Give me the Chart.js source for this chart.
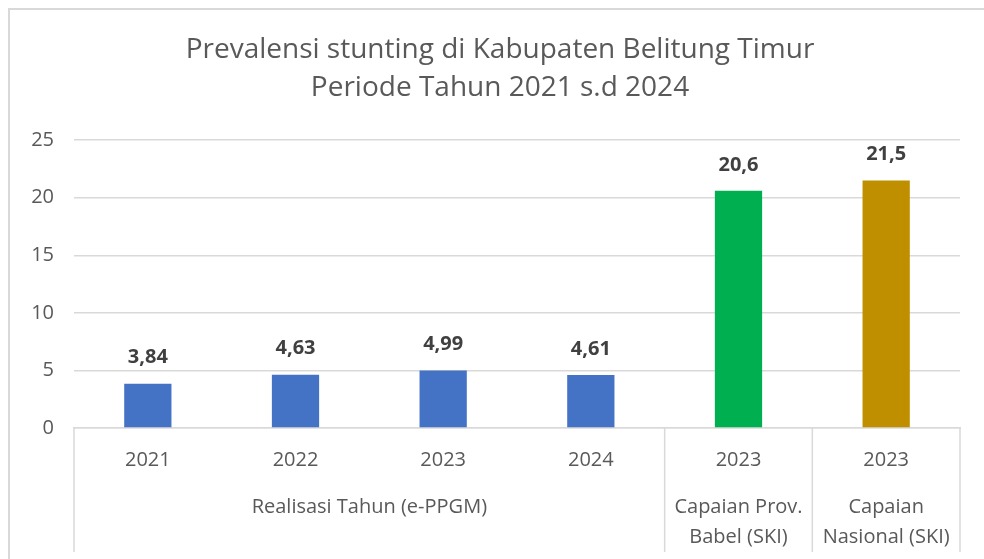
<!DOCTYPE html>
<html>
<head>
<meta charset="utf-8">
<script src="https://cdn.jsdelivr.net/npm/chart.js@4/dist/chart.umd.min.js"></script>
<style>
  html, body { margin: 0; padding: 0; background: #fff; overflow: hidden; }
  canvas { display: block; }
</style>
</head>
<body>
<canvas id="myChart" width="1000" height="559"></canvas>
<script>
// data
const years = ['2021', '2022', '2023', '2024', '2023', '2023'];
const values = [3.84, 4.63, 4.99, 4.61, 20.6, 21.5];
const barColors = ['#4472C4', '#4472C4', '#4472C4', '#4472C4', '#00B050', '#BF8F00'];
const groupLabels = [['Realisasi Tahun (e-PPGM)'], ['Capaian Prov.', 'Babel (SKI)'], ['Capaian', 'Nasional (SKI)']];
const groupSizes = [4, 1, 1];
const titleLines = ['Prevalensi stunting di Kabupaten Belitung Timur', 'Periode Tahun 2021 s.d 2024'];

const FONT = "'Open Sans', 'Noto Sans', sans-serif";
const TEXT = '#595959';
const GRID = '#d9d9d9';

// frame round the chart
const framePlugin = {
  id: 'frame',
  beforeDraw(chart) {
    const c = chart.ctx;
    c.save();
    c.fillStyle = '#fff';
    c.fillRect(0, 0, chart.width, chart.height);
    c.strokeStyle = GRID;
    c.lineWidth = 2;
    c.strokeRect(9, 9, chart.width + 20, chart.height + 20);
    c.restore();
  }
};

// value labels above bars
const valueLabels = {
  id: 'valueLabels',
  afterDatasetsDraw(chart) {
    const c = chart.ctx;
    const meta = chart.getDatasetMeta(0);
    c.save();
    c.font = 'bold 20px ' + FONT;
    c.fillStyle = '#404040';
    c.textAlign = 'center';
    c.textBaseline = 'middle';
    meta.data.forEach((bar, i) => {
      c.fillText(String(values[i]).replace('.', ','), bar.x, bar.y - 26);
    });
    c.restore();
  }
};

// second level of the category axis
const groupAxis = {
  id: 'groupAxis',
  afterDraw(chart) {
    const c = chart.ctx;
    const x = chart.scales.x;
    const area = chart.chartArea;
    const half = (x.getPixelForTick(1) - x.getPixelForTick(0)) / 2;
    const bottom = 552;
    c.save();
    c.strokeStyle = GRID;
    c.lineWidth = 1.5;
    c.font = '20px ' + FONT;
    c.fillStyle = TEXT;
    c.textAlign = 'center';
    c.textBaseline = 'middle';
    let start = 0;
    groupSizes.forEach((n, g) => {
      const left = x.getPixelForTick(start) - half;
      const right = x.getPixelForTick(start + n - 1) + half;
      c.beginPath();
      c.moveTo(left, area.bottom);
      c.lineTo(left, bottom);
      c.stroke();
      if (g === groupSizes.length - 1) {
        c.beginPath();
        c.moveTo(right, area.bottom);
        c.lineTo(right, bottom);
        c.stroke();
      }
      groupLabels[g].forEach((line, k) => {
        c.fillText(line, (left + right) / 2, 507 + k * 30);
      });
      start += n;
    });
    c.restore();
  }
};

const ctx = document.getElementById('myChart').getContext('2d');
const myChart = new Chart(ctx, {
  type: 'bar',
  data: {
    labels: years,
    datasets: [{
      data: values,
      backgroundColor: barColors,
      barPercentage: 0.32,
      categoryPercentage: 1
    }]
  },
  options: {
    responsive: false,
    animation: false,
    devicePixelRatio: 1,
    layout: { padding: 0 },
    plugins: {
      legend: { display: false },
      tooltip: { enabled: false },
      title: {
        display: true,
        text: titleLines,
        color: TEXT,
        font: { family: FONT, size: 28, weight: 'normal', lineHeight: 1.36 },
        padding: { top: 31, bottom: 33 }
      }
    },
    scales: {
      x: {
        grid: { display: false, drawTicks: false },
        border: { color: GRID, width: 1.5 },
        ticks: { color: TEXT, font: { family: FONT, size: 20 }, padding: 20, maxRotation: 0 },
        afterFit(s) { s.height = 131; }
      },
      y: {
        min: 0,
        max: 25,
        ticks: { stepSize: 5, color: TEXT, font: { family: FONT, size: 20 }, padding: 20 },
        grid: { color: GRID, lineWidth: 1.5, drawTicks: false },
        border: { display: false },
        afterFit(s) { s.width = 74; }
      },
      // empty right-hand strip so the plot ends at 960 while the title stays centred on the frame
      yRight: {
        position: 'right',
        min: 0,
        max: 25,
        grid: { display: false, drawTicks: false },
        border: { display: false },
        ticks: { display: false },
        afterFit(s) { s.width = 40; }
      }
    }
  },
  plugins: [framePlugin, valueLabels, groupAxis]
});
</script>
</body>
</html>
